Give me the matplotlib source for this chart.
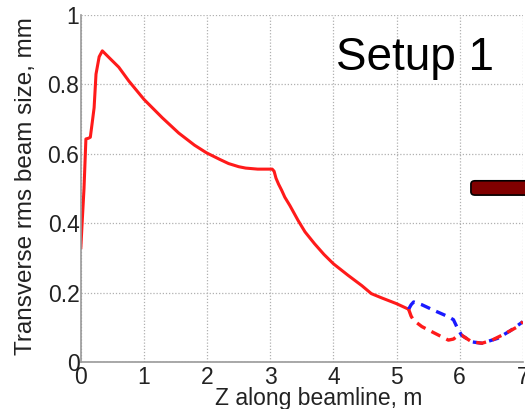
"""
Transverse rms beam size along the beamline, setup 1.
"""
import matplotlib
matplotlib.use("Agg")
import matplotlib.pyplot as plt
from matplotlib.patches import FancyBboxPatch

plt.rcParams["font.family"] = ["Liberation Sans", "DejaVu Sans"]

# solid red: common beamline section
z_main = [0.0, 0.02, 0.05, 0.08, 0.12, 0.15, 0.18, 0.21, 0.24, 0.29, 0.34, 0.45,
          0.6, 0.76, 1.0, 1.29, 1.55, 1.8, 1.99, 2.2, 2.34, 2.5, 2.61, 2.8, 3.03,
          3.06, 3.09, 3.13, 3.18, 3.23, 3.31, 3.44, 3.55, 3.70, 3.85, 4.0, 4.23,
          4.45, 4.6, 4.76, 5.0, 5.19]
s_main = [0.33, 0.40, 0.50, 0.643, 0.645, 0.648, 0.69, 0.733, 0.83, 0.88, 0.897,
          0.877, 0.85, 0.81, 0.757, 0.704, 0.66, 0.625, 0.603, 0.584, 0.572, 0.563,
          0.559, 0.556, 0.556, 0.55, 0.53, 0.513, 0.495, 0.475, 0.451, 0.408,
          0.375, 0.341, 0.31, 0.283, 0.25, 0.22, 0.197, 0.185, 0.168, 0.152]

# dashed branches after z = 5.2 m
z_blue = [5.19, 5.23, 5.27, 5.4, 5.6, 5.8, 5.9, 5.97, 6.03, 6.19, 6.35, 6.6, 6.8,
          7.0]
s_blue = [0.152, 0.165, 0.173, 0.165, 0.148, 0.132, 0.122, 0.095, 0.077, 0.058,
          0.054, 0.068, 0.09, 0.116]

z_red = [5.19, 5.23, 5.27, 5.4, 5.56, 5.7, 5.82, 5.9, 5.95, 6.03, 6.19, 6.35, 6.5,
         6.7, 6.9, 7.0]
s_red = [0.152, 0.132, 0.12, 0.102, 0.087, 0.074, 0.063, 0.066, 0.073, 0.077,
         0.058, 0.054, 0.062, 0.08, 0.10, 0.116]

x_ticks = [0, 1, 2, 3, 4, 5, 6, 7]
y_ticks = [0, 0.2, 0.4, 0.6, 0.8, 1]
y_labels = ["0", "0.2", "0.4", "0.6", "0.8", "1"]

fig = plt.figure(figsize=(5.25, 4.09), dpi=100)
ax = fig.add_axes([0.154, 0.115, 0.842, 0.848])

ax.plot(z_main, s_main, color="#ff1a1a", linewidth=2.2)
ax.plot(z_blue, s_blue, color="#1a1aff", linewidth=2.4, linestyle=(0, (3, 2)))
ax.plot(z_red, s_red, color="#ff1a1a", linewidth=2.4, linestyle=(0, (3, 2)))

ax.set_xlim(0, 7)
ax.set_ylim(0, 1)
ax.set_xticks(x_ticks)
ax.set_yticks(y_ticks)
ax.set_yticklabels(y_labels)
ax.tick_params(labelsize=16.5, length=0, colors="#222222")
ax.tick_params(axis="y", pad=1)
ax.tick_params(axis="x", pad=3)
ax.grid(True, color="#b0b0b0", linestyle=(0, (1, 1.5)), linewidth=0.9)

for side in ["top", "right"]:
    ax.spines[side].set_visible(False)
for side in ["left", "bottom"]:
    ax.spines[side].set_color("#999999")
    ax.spines[side].set_linewidth(1.2)

ax.set_xlabel("Z along beamline, m", fontsize=16.5, color="#222222")
ax.xaxis.set_label_coords(0.538, -0.073, transform=ax.transAxes)
ax.xaxis.label.set_va("top")
ax.set_ylabel("Transverse rms beam size, mm", fontsize=17.5, color="#222222")
ax.yaxis.set_label_coords(-0.10, 0.507, transform=ax.transAxes)

fig.text(0.640, 0.83, "Setup 1", fontsize=33, color="black")

box = FancyBboxPatch((0.897, 0.523), 0.12, 0.035,
                     boxstyle="round,pad=0,rounding_size=0.008",
                     transform=fig.transFigure, facecolor="#800000",
                     edgecolor="black", linewidth=1.2, clip_on=False)
fig.patches.append(box)

fig.savefig("out.png", dpi=100)
